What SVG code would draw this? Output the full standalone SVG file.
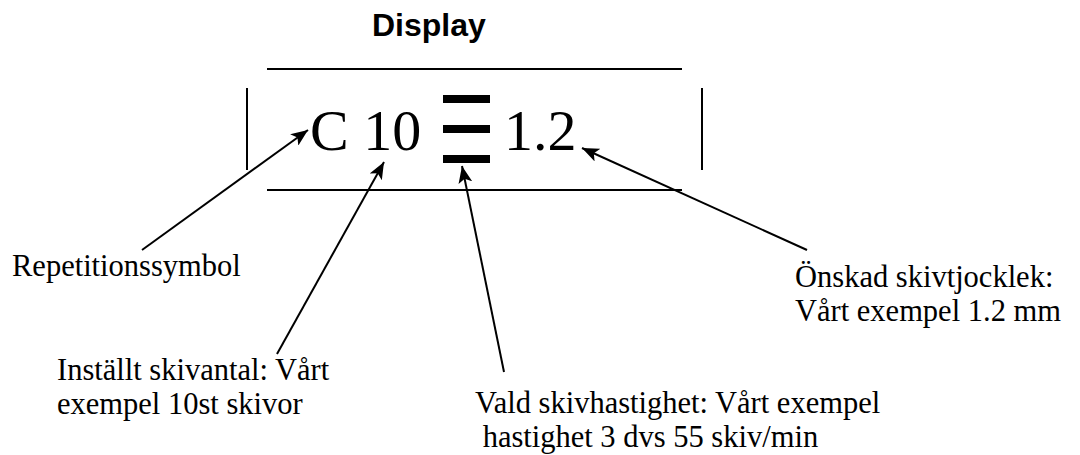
<svg xmlns="http://www.w3.org/2000/svg" width="1080" height="455" viewBox="0 0 1080 455">
<style>
.lbl{font-family:"Liberation Serif","Times New Roman",serif;font-size:30.5px;fill:#000}
.big{font-family:"Liberation Serif","Times New Roman",serif;font-size:58px;fill:#000}
.ttl{font-family:"Liberation Sans",Arial,sans-serif;font-size:32px;font-weight:bold;fill:#000}
.frame{stroke:#000;stroke-width:2;fill:none}
.conn{stroke:#000;stroke-width:2;fill:none;marker-end:url(#ah)}
</style>
<defs>
<marker id="ah" markerUnits="userSpaceOnUse" markerWidth="18" markerHeight="14" refX="17" refY="7" orient="auto">
<path d="M0,0 L17,7 L0,14 L4,7 Z" fill="#000"/>
</marker>
</defs>
<rect width="1080" height="455" fill="#fff"/>
<g id="display">
<text class="ttl" x="372" y="36">Display</text>
<line class="frame" x1="267" y1="69" x2="682" y2="69"/>
<line class="frame" x1="267" y1="190" x2="682" y2="190"/>
<line class="frame" x1="247" y1="88" x2="247" y2="170"/>
<line class="frame" x1="702" y1="88" x2="702" y2="170"/>
<text class="big" x="310" y="150">C 10</text>
<rect x="443" y="95" width="47" height="8" fill="#000"/>
<rect x="443" y="125" width="47" height="8" fill="#000"/>
<rect x="443" y="155" width="47" height="8" fill="#000"/>
<text class="big" x="504" y="150">1.2</text>
</g>
<g id="repetition">
<text class="lbl" x="12" y="276">Repetitionssymbol</text>
</g>
<g id="skivantal">
<text class="lbl"><tspan x="57" y="380">Inställt skivantal: Vårt</tspan><tspan x="57" y="414">exempel 10st skivor</tspan></text>
</g>
<g id="hastighet">
<text class="lbl" xml:space="preserve"><tspan x="475" y="413">Vald skivhastighet: Vårt exempel</tspan><tspan x="475" y="447"> hastighet 3 dvs 55 skiv/min</tspan></text>
</g>
<g id="tjocklek">
<text class="lbl"><tspan x="795" y="287">Önskad skivtjocklek:</tspan><tspan x="795" y="321">Vårt exempel 1.2 mm</tspan></text>
</g>
<g id="connectors">
<line class="conn" x1="142" y1="250" x2="308" y2="130"/>
<line class="conn" x1="277" y1="354" x2="384" y2="162"/>
<line class="conn" x1="504" y1="372" x2="462" y2="166"/>
<line class="conn" x1="807" y1="250" x2="582" y2="148"/>
</g>
</svg>
